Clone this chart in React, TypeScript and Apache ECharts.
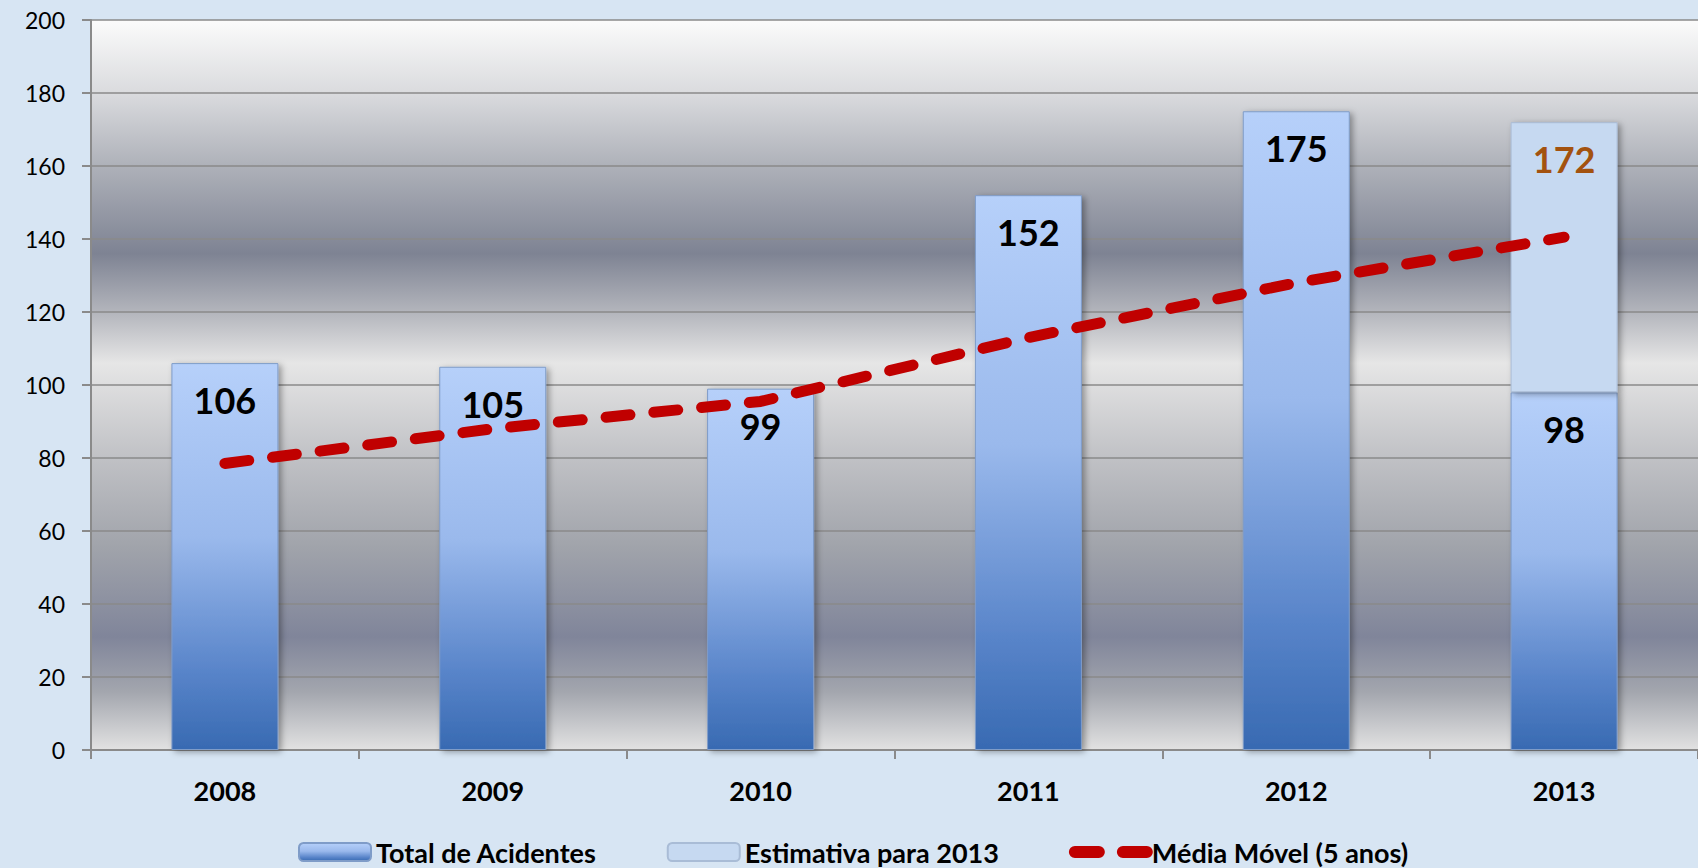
import React, { useEffect, useRef } from "react";
import * as echarts from "echarts";

const categories = ["2008", "2009", "2010", "2011", "2012", "2013"];
const totalAcidentes = [106, 105, 99, 152, 175, 98];
const estimativaExtra = [null, null, null, null, null, 74];
const estimativaTotalLabel = "172";
const mediaMovel = [78.5, 88, 95.5, 113, 128, 140.5];
const yTicks = { min: 0, max: 200, interval: 20 };

const FONT = "Lato, 'Noto Sans', sans-serif";

export default function App() {
  const ref = useRef<HTMLDivElement>(null);
  useEffect(() => {
    document.body.style.margin = "0";
    document.body.style.background = "#d7e5f3";
    const chart = echarts.init(ref.current!, null, { renderer: "svg" });
    const barGrad = new echarts.graphic.LinearGradient(0, 0, 0, 1, [
      { offset: 0, color: "#b6d0fa" },
      { offset: 0.45, color: "#9ab9ec" },
      { offset: 0.8, color: "#5884c9" },
      { offset: 1, color: "#386ab2" },
    ]);
    const gridGrad = new echarts.graphic.LinearGradient(0, 0, 0, 1, [
      { offset: 0, color: "#fbfbfb" },
      { offset: 0.1, color: "#dadbde" },
      { offset: 0.2, color: "#aeb1b9" },
      { offset: 0.32, color: "#7e8393" },
      { offset: 0.4, color: "#b3b5bc" },
      { offset: 0.47, color: "#e6e6e6" },
      { offset: 0.6, color: "#c0c1c5" },
      { offset: 0.72, color: "#a1a4ab" },
      { offset: 0.845, color: "#80859a" },
      { offset: 0.92, color: "#a3a6ae" },
      { offset: 1, color: "#e2e2e2" },
    ]);
    const option: any = {
      animation: false,
      backgroundColor: "#d7e5f3",
      textStyle: { fontFamily: FONT },
      grid: {
        left: 91,
        right: -13,
        top: 20,
        bottom: 118,
        show: true,
        backgroundColor: gridGrad,
        borderWidth: 0,
      },
      legend: {
        left: 298,
        top: 838,
        padding: 0,
        itemWidth: 72,
        itemHeight: 18,
        itemGap: 70,
        textStyle: {
          fontSize: 27,
          lineHeight: 28,
          fontWeight: "bold",
          color: "#000",
          fontFamily: FONT,
        },
        lineStyle: { width: 12 },
        data: [
          "Total de Acidentes",
          "Estimativa para 2013",
          { name: "Média Móvel (5 anos)", itemStyle: { opacity: 0 } },
        ],
      },
      xAxis: {
        type: "category",
        data: categories,
        axisLine: { show: true, lineStyle: { color: "#8a8a8a", width: 2 } },
        axisTick: { show: true, length: 9, lineStyle: { color: "#8a8a8a", width: 2 } },
        axisLabel: { fontSize: 27, fontWeight: "bold", color: "#000", margin: 27, fontFamily: FONT },
      },
      yAxis: {
        type: "value",
        min: yTicks.min,
        max: yTicks.max,
        interval: yTicks.interval,
        axisLine: { show: true, lineStyle: { color: "#8a8a8a", width: 2 } },
        axisTick: { show: true, length: 9, lineStyle: { color: "#8a8a8a", width: 2 } },
        axisLabel: { fontSize: 23, color: "#000", margin: 26, fontFamily: FONT },
        splitLine: { show: true, lineStyle: { color: "#8a8a8a", width: 1.5 } },
      },
      series: [
        {
          name: "Total de Acidentes",
          type: "bar",
          stack: "a",
          barWidth: 107,
          data: totalAcidentes,
          itemStyle: {
            color: barGrad,
            borderColor: "#7f9cc8",
            borderWidth: 1,
            shadowColor: "rgba(0,0,0,0.35)",
            shadowBlur: 6,
            shadowOffsetX: 3,
            shadowOffsetY: 2,
          },
          label: {
            show: true,
            position: "insideTop",
            distance: 19,
            fontSize: 36,
            fontWeight: "bold",
            color: "#000",
            fontFamily: FONT,
          },
          z: 2,
        },
        {
          name: "Estimativa para 2013",
          type: "bar",
          stack: "a",
          barWidth: 107,
          data: estimativaExtra,
          itemStyle: {
            color: "#c6d9f1",
            borderColor: "#a9bcd6",
            borderWidth: 1,
            shadowColor: "rgba(0,0,0,0.35)",
            shadowBlur: 6,
            shadowOffsetX: 3,
            shadowOffsetY: 2,
          },
          label: {
            show: true,
            position: "insideTop",
            distance: 19,
            fontSize: 36,
            fontWeight: "bold",
            color: "#a3520f",
            fontFamily: FONT,
            formatter: () => estimativaTotalLabel,
          },
          z: 2,
        },
        {
          name: "Média Móvel (5 anos)",
          type: "line",
          data: mediaMovel,
          symbol: "none",
          itemStyle: { color: "#c00000" },
          lineStyle: { color: "#c00000", width: 11, type: [24, 24], cap: "round" },
          z: 5,
        },
      ],
    };
    chart.setOption(option);
    return () => chart.dispose();
  }, []);
  return <div ref={ref} style={{ width: 1698, height: 868 }} />;
}
